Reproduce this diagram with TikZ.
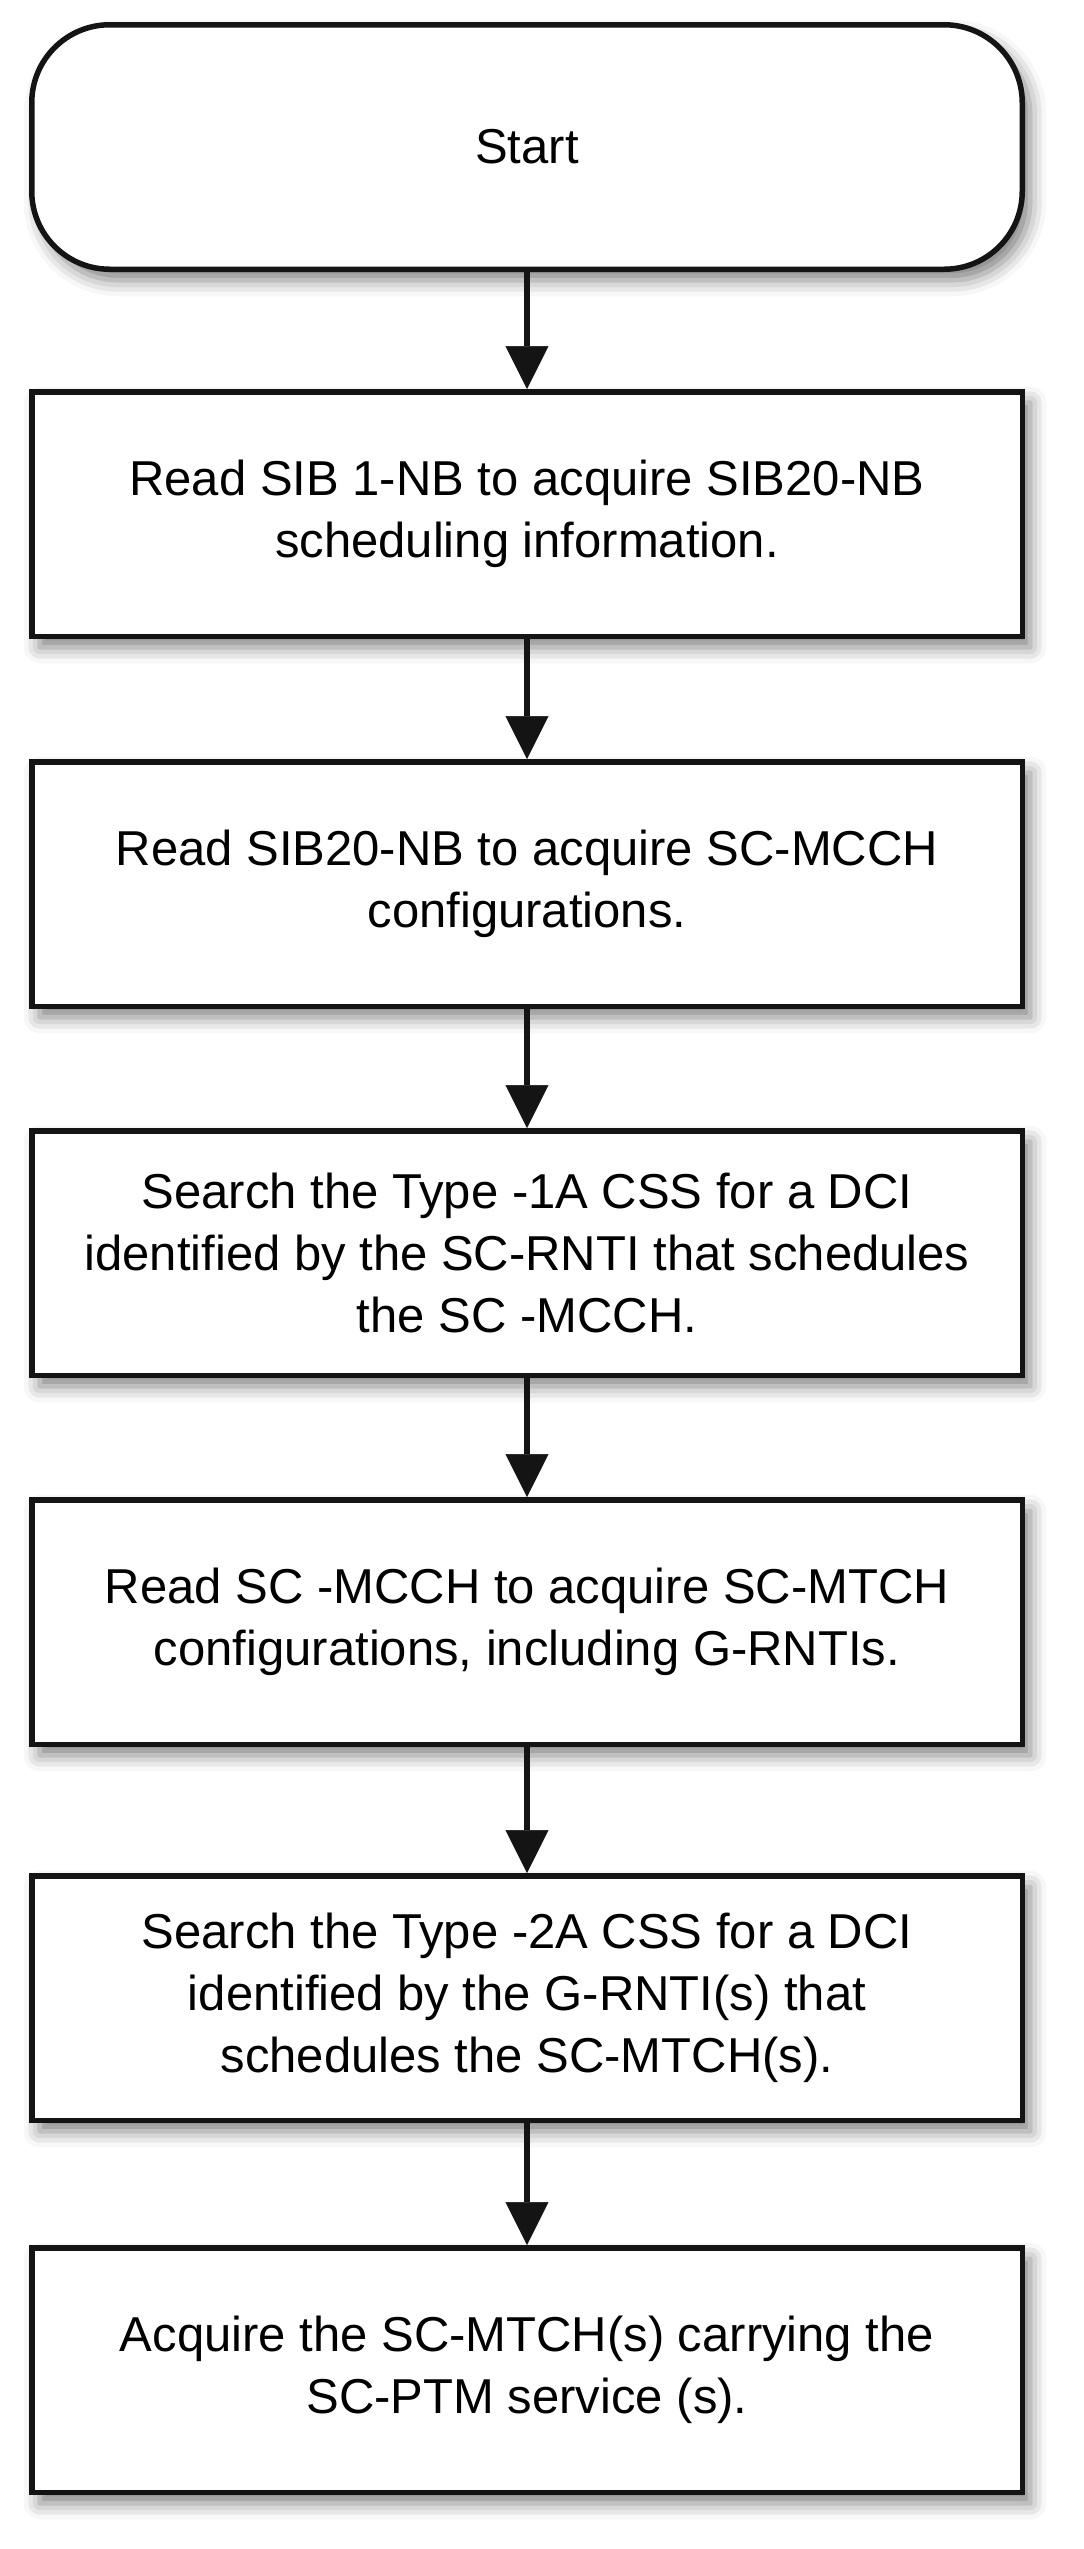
\documentclass[tikz,border=0pt]{standalone}
\usepackage{fontspec}
\setmainfont{Liberation Sans}
\usetikzlibrary{arrows.meta,shadows.blur}

\tikzset{
	stepbox/.style={draw=black!92, line width=5.5pt, fill=white, inner sep=0pt,
		minimum width=990.5pt, minimum height=244.5pt, align=center,
		font=\fontsize{49}{62}\selectfont,
		blur shadow={shadow xshift=8pt, shadow yshift=-11pt, shadow blur radius=16pt, shadow opacity=50}},
	startbox/.style={stepbox, rounded corners=78pt},
	flow/.style={draw=black!92, line width=5.5pt, -{Triangle[width=43pt,length=43pt,line width=0.5pt]}}
}

\begin{document}
\begin{tikzpicture}[x=1pt,y=-1pt]
			\useasboundingbox (0,0) rectangle (1084,2549);
			
			\node[startbox] (start) at (527,147) {Start};
			\node[stepbox] (sibone) at (527,514) {Read SIB 1-NB to acquire SIB20-NB\\scheduling information.};
			\node[stepbox] (sibtwenty) at (527,884) {Read SIB20-NB to acquire SC-MCCH\\configurations.};
			\node[stepbox] (searchmcch) at (527,1253) {Search the Type -1A CSS for a DCI\\identified by the SC-RNTI that schedules\\the SC -MCCH.};
			\node[stepbox] (readmcch) at (527,1622) {Read SC -MCCH to acquire SC-MTCH\\configurations, including G-RNTIs.};
			\node[stepbox] (searchmtch) at (527,1998) {Search the Type -2A CSS for a DCI\\identified by the G-RNTI(s) that\\schedules the SC-MTCH(s).};
			\node[stepbox] (acquire) at (527,2370) {Acquire the SC-MTCH(s) carrying the\\SC-PTM service (s).};
			
			% connectors, top to bottom
			\draw[flow] (start) -- (sibone);
			\draw[flow] (sibone) -- (sibtwenty);
			\draw[flow] (sibtwenty) -- (searchmcch);
			\draw[flow] (searchmcch) -- (readmcch);
			\draw[flow] (readmcch) -- (searchmtch);
			\draw[flow] (searchmtch) -- (acquire);
\end{tikzpicture}
\end{document}
